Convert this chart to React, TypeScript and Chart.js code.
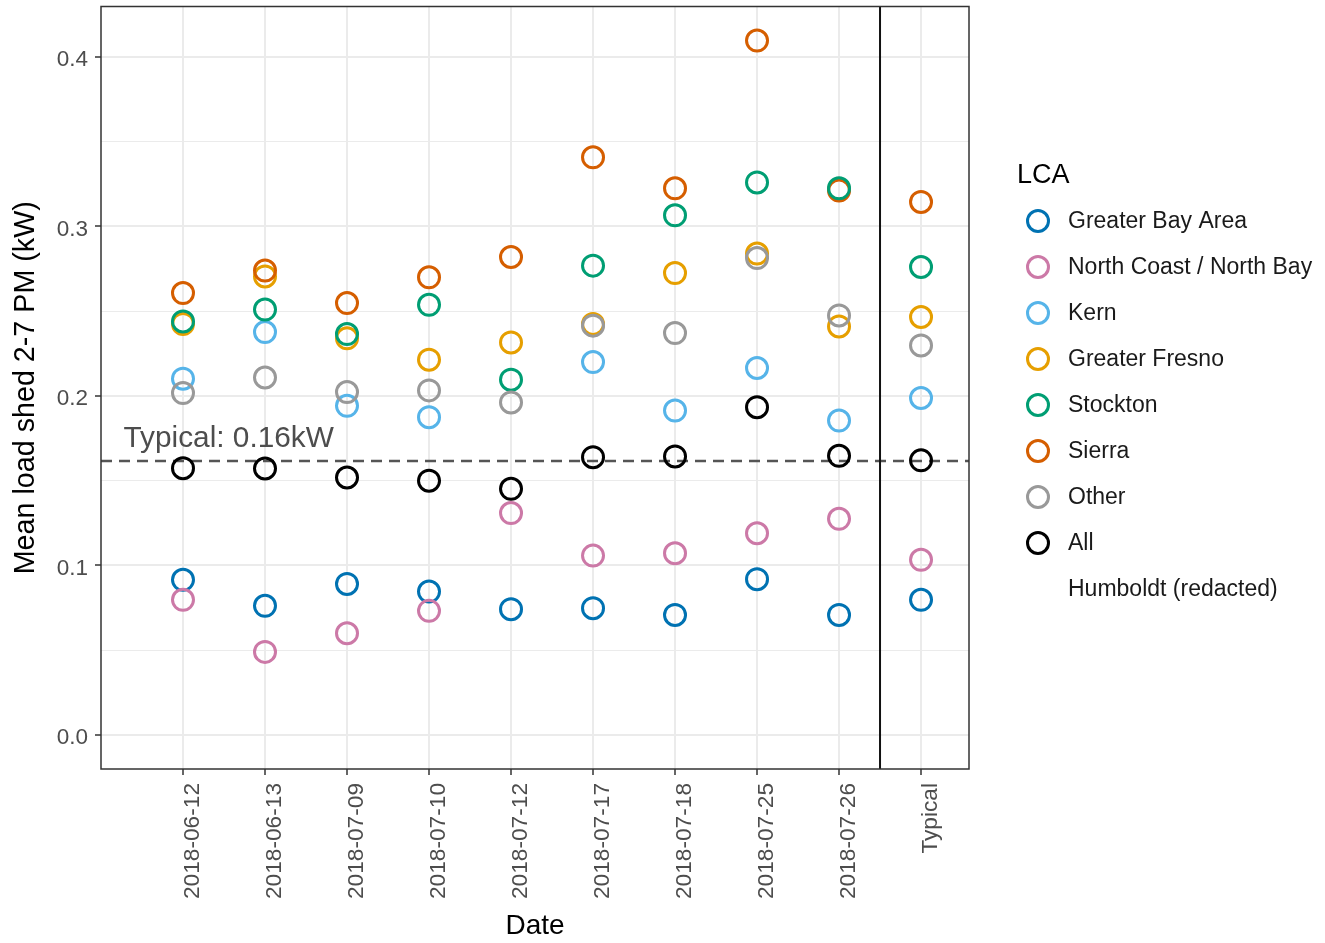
import React, { useEffect, useRef } from "react";
import { Chart, registerables } from "chart.js";

Chart.register(...registerables);

// ---------- data ----------
const categories = [
  "2018-06-12",
  "2018-06-13",
  "2018-07-09",
  "2018-07-10",
  "2018-07-12",
  "2018-07-17",
  "2018-07-18",
  "2018-07-25",
  "2018-07-26",
  "Typical",
];

const yTickValues = [0, 0.05, 0.1, 0.15, 0.2, 0.25, 0.3, 0.35, 0.4];
const yTickLabels = ["0.0", "", "0.1", "", "0.2", "", "0.3", "", "0.4"];

const greaterBayArea = [0.0915, 0.0762, 0.0891, 0.0846, 0.0742, 0.0748, 0.0708, 0.0919, 0.0708, 0.0797];
const northCoast = [0.0797, 0.049, 0.06, 0.0732, 0.1309, 0.1058, 0.1072, 0.119, 0.1275, 0.1033];
const kern = [0.2102, 0.2377, 0.1942, 0.1875, null, 0.22, 0.1914, 0.2165, 0.1855, 0.1988];
const greaterFresno = [0.2425, 0.2705, 0.234, 0.2214, 0.2316, 0.2425, 0.2725, 0.284, 0.241, 0.2466];
const stockton = [0.244, 0.251, 0.2365, 0.2538, 0.2096, 0.2769, 0.3066, 0.326, 0.3225, 0.2761];
const sierra = [0.2607, 0.274, 0.2548, 0.27, 0.282, 0.3408, 0.3225, 0.4097, 0.3212, 0.3145];
const other = [0.2017, 0.2109, 0.2023, 0.2033, 0.1962, 0.2415, 0.2371, 0.2814, 0.2475, 0.2298];
const allLca = [0.1574, 0.1572, 0.1519, 0.15, 0.1452, 0.1639, 0.1643, 0.1934, 0.1647, 0.162];

const seriesNames = [
  "Greater Bay Area",
  "North Coast / North Bay",
  "Kern",
  "Greater Fresno",
  "Stockton",
  "Sierra",
  "Other",
  "All",
];
const seriesValues = [greaterBayArea, northCoast, kern, greaterFresno, stockton, sierra, other, allLca];
const seriesColors = ["#0072B2", "#CC79A7", "#56B4E9", "#E69F00", "#009E73", "#D55E00", "#999999", "#000000"];
// drawing rank (0 = drawn first / bottom)
const drawRank = [0, 1, 2, 3, 5, 4, 6, 7];

const typicalValue = 0.1616;
const typicalLabel = "Typical: 0.16kW";
const typicalLabelPos = { x: -0.725, y: 0.17 };
const separatorX = 8.5;

const legendTitle = "LCA";
const legendExtra = "Humboldt (redacted)";
const xTitle = "Date";
const yTitle = "Mean load shed 2-7 PM (kW)";

const FONT = "'Liberation Sans', Arial, Helvetica, sans-serif";

// canvas is shifted up by this many pixels on the page
const SHIFT = 7;
const CANVAS_W = 1325;
const CANVAS_H = 943 + SHIFT;

const overlayPlugin = {
  id: "overlay",
  afterDraw(chart: any) {
    const { ctx, chartArea, scales } = chart;
    const xs = scales.x;
    const ys = scales.y;
    ctx.save();
    // separator between dates and typical
    const sx = xs.getPixelForValue(separatorX);
    ctx.strokeStyle = "#111111";
    ctx.lineWidth = 2;
    ctx.beginPath();
    ctx.moveTo(sx, chartArea.top);
    ctx.lineTo(sx, chartArea.bottom);
    ctx.stroke();

    // panel border
    ctx.strokeStyle = "#333333";
    ctx.lineWidth = 1.5;
    ctx.strokeRect(chartArea.left, chartArea.top, chartArea.right - chartArea.left, chartArea.bottom - chartArea.top);

    // annotation text
    ctx.fillStyle = "#4D4D4D";
    ctx.font = `29.8px ${FONT}`;
    ctx.textAlign = "left";
    ctx.textBaseline = "alphabetic";
    ctx.fillText(typicalLabel, xs.getPixelForValue(typicalLabelPos.x), ys.getPixelForValue(typicalLabelPos.y));

    // legend
    ctx.fillStyle = "#000000";
    ctx.font = `27px ${FONT}`;
    ctx.textBaseline = "middle";
    ctx.fillText(legendTitle, 1017, 176 + SHIFT);
    ctx.font = `23px ${FONT}`;
    for (let i = 0; i < seriesNames.length; i++) {
      const cy = 221 + 46 * i + SHIFT;
      ctx.beginPath();
      ctx.arc(1038, cy, 10.5, 0, Math.PI * 2);
      ctx.strokeStyle = seriesColors[i];
      ctx.lineWidth = 3;
      ctx.stroke();
      ctx.fillStyle = "#1A1A1A";
      ctx.fillText(seriesNames[i], 1068, cy + 1);
    }
    ctx.fillText(legendExtra, 1068, 221 + 46 * seriesNames.length + 1 + SHIFT);
    ctx.restore();
  },
};

export default function App() {
  const ref = useRef<HTMLCanvasElement | null>(null);

  useEffect(() => {
    if (!ref.current) return;
    Chart.defaults.font.family = FONT;

    const pointSets = seriesNames.map((name, s) => ({
      type: "scatter" as const,
      label: name,
      data: seriesValues[s]
        .map((v, i) => (v == null ? null : { x: i, y: v }))
        .filter((p) => p !== null),
      borderColor: seriesColors[s],
      backgroundColor: "rgba(0,0,0,0)",
      pointRadius: 10.5,
      pointHoverRadius: 10.5,
      pointBorderWidth: 3,
      pointStyle: "circle",
      showLine: false,
      order: 20 - drawRank[s],
    }));

    const dashed = {
      type: "line" as const,
      label: "typical",
      data: [
        { x: -1, y: typicalValue },
        { x: 9.585, y: typicalValue },
      ],
      borderColor: "#555555",
      borderWidth: 2.5,
      borderDash: [11, 7],
      pointRadius: 0,
      fill: false,
      order: 50,
    };

    const chart = new Chart(ref.current, {
      type: "scatter",
      data: { datasets: [dashed as any, ...pointSets] },
      options: {
        animation: false,
        responsive: false,
        devicePixelRatio: 1,
        layout: { padding: { left: 0, top: 0, right: 356, bottom: 0 } },
        plugins: {
          legend: { display: false },
          tooltip: { enabled: false },
        },
        scales: {
          x: {
            type: "linear",
            min: -1,
            max: 9.585,
            afterBuildTicks: (scale: any) => {
              scale.ticks = categories.map((_, i) => ({ value: i }));
            },
            afterFit: (scale: any) => {
              scale.height = 174;
              scale.paddingLeft = 0;
              scale.paddingRight = 0;
            },
            ticks: {
              autoSkip: false,
              minRotation: 90,
              maxRotation: 90,
              padding: 8,
              labelOffset: 10,
              color: "#4D4D4D",
              font: { size: 22.7 },
              callback: (v: any) => categories[Math.round(v)] ?? "",
            },
            grid: {
              color: "#EBEBEB",
              lineWidth: 2,
              drawTicks: true,
              tickLength: 6,
              tickColor: "#333333",
              tickWidth: 1.5,
            },
            border: { display: false },
            title: {
              display: true,
              text: xTitle,
              color: "#000000",
              font: { size: 28 },
              padding: { top: 0, bottom: 0 },
            },
          },
          y: {
            type: "linear",
            min: -0.0201,
            max: 0.4298,
            afterBuildTicks: (scale: any) => {
              scale.ticks = yTickValues.map((v) => ({ value: v }));
            },
            afterFit: (scale: any) => {
              scale.width = 101;
              scale.paddingTop = 0;
              scale.paddingBottom = 0;
            },
            ticks: {
              autoSkip: false,
              padding: 7,
              labelOffset: 3,
              color: "#4D4D4D",
              font: { size: 22.5 },
              callback: (_v: any, i: number) => yTickLabels[i] ?? "",
            },
            grid: {
              color: "#EBEBEB",
              lineWidth: (c: any) => (c.index % 2 === 0 ? 2 : 1),
              drawTicks: true,
              tickLength: 6,
              tickColor: (c: any) => (c.index % 2 === 0 ? "#333333" : "rgba(0,0,0,0)"),
              tickWidth: 1.5,
            },
            border: { display: false },
            title: {
              display: true,
              text: yTitle,
              color: "#000000",
              font: { size: 28.7 },
              padding: { top: 9, bottom: 0 },
            },
          },
        },
      },
      plugins: [overlayPlugin],
    });

    return () => chart.destroy();
  }, []);

  return (
    <div
      style={{
        position: "absolute",
        left: 0,
        top: 0,
        width: 1325,
        height: 943,
        overflow: "hidden",
        background: "#ffffff",
      }}
    >
      <canvas
        ref={ref}
        width={CANVAS_W}
        height={CANVAS_H}
        style={{ display: "block", position: "absolute", left: 0, top: -SHIFT }}
      />
    </div>
  );
}
